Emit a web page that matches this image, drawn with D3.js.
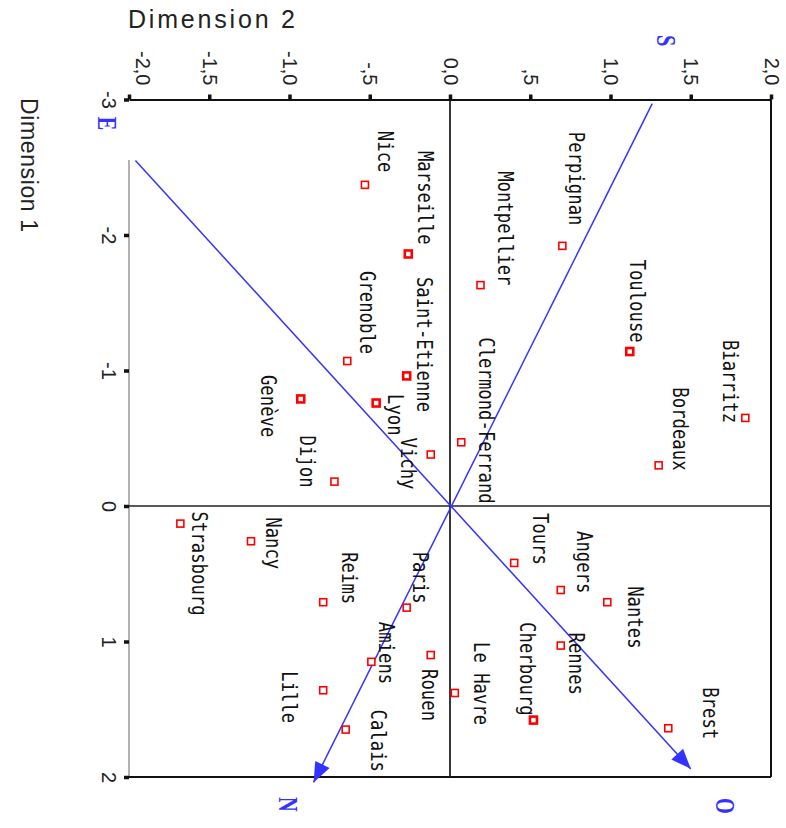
<!DOCTYPE html>
<html><head><meta charset="utf-8">
<script src="https://cdn.jsdelivr.net/npm/d3@7"></script>
<style>body{margin:0;background:#fff}</style>
</head><body>
<svg id="chart" width="786" height="828"></svg>
<script>
// ---------- data ----------
const cities = ["Nice","Marseille","Perpignan","Montpellier","Toulouse","Grenoble","Saint-Etienne","Lyon","Genève","Biarritz","Clermond-Ferrand","Vichy","Bordeaux","Dijon","Strasbourg","Nancy","Tours","Angers","Reims","Nantes","Paris","Rennes","Rouen","Amiens","Lille","Le Havre","Cherbourg","Brest","Calais"];
const dim2 = [-0.53,-0.26,0.70,0.19,1.12,-0.64,-0.27,-0.46,-0.93,1.84,0.07,-0.12,1.30,-0.72,-1.68,-1.24,0.40,0.69,-0.79,0.98,-0.27,0.69,-0.12,-0.49,-0.79,0.03,0.52,1.36,-0.65];
const dim1 = [-2.37,-1.86,-1.92,-1.63,-1.14,-1.07,-0.96,-0.76,-0.79,-0.65,-0.47,-0.38,-0.30,-0.18,0.13,0.26,0.42,0.62,0.71,0.71,0.75,1.03,1.10,1.15,1.36,1.38,1.58,1.64,1.65];
const dim2Ticks = [-2,-1.5,-1,-0.5,0,0.5,1,1.5,2];
const dim2TickLabels = ["-2,0","-1,5","-1,0","-,5","0,0",",5","1,0","1,5","2,0"];
const dim1Ticks = [-3,-2,-1,0,1,2];
const dim1TickLabels = ["-3","-2","-1","0","1","2"];
const directionNames = ["E","O","S","N"];
const directionDim2 = [-1.96,1.50,1.26,-0.85];
const directionDim1 = [-2.55,1.94,-2.97,2.04];

// ---------- layout ----------
const labelOffset = {
  "Nice":[20,-54],"Marseille":[17,-103],"Saint-Etienne":[18,-99],"Grenoble":[20,-90],
  "Genève":[-32,-24],"Lyon":[19,-9],"Vichy":[-22,-17],"Dijon":[-27,-46],
  "Perpignan":[14,-114],"Montpellier":[25,-114],"Toulouse":[8,-92],"Biarritz":[-15,-78],
  "Bordeaux":[22,-78],"Clermond-Ferrand":[25,-105],"Strasbourg":[19,-12],"Nancy":[22,-24],
  "Reims":[26,-50],"Paris":[14,-56],"Amiens":[15,-40],"Rouen":[-1,14],"Lille":[-34,-19],
  "Calais":[33,-20],"Tours":[26,-50],"Angers":[24,-59],"Nantes":[28,-16],"Rennes":[16,-13],
  "Cherbourg":[-6,-98],"Le Havre":[27,-51],"Brest":[42,-41]
};
const boldMarkers = new Set(["Marseille","Toulouse","Genève","Cherbourg","Lyon","Saint-Etienne"]);
const letterOffset = {"E":[-28,-37],"O":[35,37],"S":[14,-63],"N":[-25,22]};

const svg = d3.select("#chart");
const x = d3.scaleLinear().domain([-2,2]).range([129,771]);
const y = d3.scaleLinear().domain([-3,2]).range([99.5,777]);
const blue = "#3333ff";

// frame lines
svg.append("line").attr("x1",129).attr("x2",129).attr("y1",160).attr("y2",y(2))
  .attr("stroke","#999").attr("stroke-width",1.5);
svg.append("line").attr("x1",x(2)).attr("x2",x(2)).attr("y1",y(-3)).attr("y2",y(2))
  .attr("stroke","#111").attr("stroke-width",2);
svg.append("line").attr("x1",x(-2)).attr("x2",x(2)).attr("y1",y(2)).attr("y2",y(2))
  .attr("stroke","#111").attr("stroke-width",2);
// zero lines
svg.append("line").attr("x1",x(0)).attr("x2",x(0)).attr("y1",y(-3)).attr("y2",y(2))
  .attr("stroke","#222").attr("stroke-width",1.8);
svg.append("line").attr("x1",x(-2)).attr("x2",x(2)).attr("y1",y(0)).attr("y2",y(0))
  .attr("stroke","#222").attr("stroke-width",1.6);

// top axis (Dimension 2)
const topAxis = svg.append("g").attr("transform",`translate(0,${y(-3)})`)
  .call(d3.axisTop(x).tickValues(dim2Ticks).tickSize(5).tickSizeOuter(0)
    .tickFormat((d,i)=>dim2TickLabels[i]));
topAxis.select(".domain").attr("stroke","#111").attr("stroke-width",2);
topAxis.selectAll(".tick line").attr("stroke","#111").attr("stroke-width",3.5);
topAxis.selectAll(".tick text")
  .attr("x",0).attr("y",0).attr("dy","0.35em")
  .attr("transform",(d,i)=>`translate(${i===0?13:0},-14) rotate(90)`)
  .attr("text-anchor","end")
  .attr("font-family","Liberation Sans, Arial, sans-serif").attr("font-size",20)
  .attr("fill","#222");

// left axis (Dimension 1)
const leftAxis = svg.append("g").attr("transform",`translate(129,0)`)
  .call(d3.axisLeft(y).tickValues(dim1Ticks).tickSize(5).tickSizeOuter(0)
    .tickFormat((d,i)=>dim1TickLabels[i]));
leftAxis.select(".domain").remove();
leftAxis.selectAll(".tick line").attr("stroke","#111").attr("stroke-width",3.5);
leftAxis.selectAll(".tick text")
  .attr("x",0).attr("y",0).attr("dy","0.35em")
  .attr("transform","translate(-20,0) rotate(90)")
  .attr("text-anchor","middle")
  .attr("font-family","Liberation Sans, Arial, sans-serif").attr("font-size",20)
  .attr("fill","#222");

// axis titles
svg.append("text").attr("x",128).attr("y",28).text("Dimension 2")
  .attr("font-family","Liberation Sans, Arial, sans-serif").attr("font-size",25)
  .attr("textLength",167).attr("lengthAdjust","spacing").attr("fill","#222");
svg.append("text").attr("transform","translate(21,98) rotate(90)").text("Dimension 1")
  .attr("font-family","Liberation Sans, Arial, sans-serif").attr("font-size",23)
  .attr("textLength",134).attr("lengthAdjust","spacing").attr("fill","#222");

// direction lines
const dirs = directionNames.map((n,i)=>({name:n, d2:directionDim2[i], d1:directionDim1[i]}));
function arrowHead(g, x0,y0,x1,y1){
  const dx=x1-x0, dy=y1-y0, L=Math.hypot(dx,dy), ux=dx/L, uy=dy/L;
  const len=20, hw=8;
  const bx=x1-ux*len, by=y1-uy*len;
  g.append("path").attr("d",`M${x1},${y1}L${bx-uy*hw},${by+ux*hw}L${bx+uy*hw},${by-ux*hw}Z`)
    .attr("fill",blue);
}
const dg = svg.append("g");
[["E","O"],["S","N"]].forEach(([a,b])=>{
  const A=dirs.find(d=>d.name===a), B=dirs.find(d=>d.name===b);
  dg.append("line").attr("x1",x(A.d2)).attr("y1",y(A.d1)).attr("x2",x(B.d2)).attr("y2",y(B.d1))
    .attr("stroke",blue).attr("stroke-width",1.5);
  arrowHead(dg, x(0),y(0), x(B.d2), y(B.d1));
});
dirs.forEach(d=>{
  const o=letterOffset[d.name];
  svg.append("text").attr("transform",`translate(${x(d.d2)+o[0]},${y(d.d1)+o[1]}) rotate(90) scale(0.75,1)`)
    .attr("dy","0.35em").attr("text-anchor","middle")
    .attr("font-family","Liberation Serif, Times New Roman, serif").attr("font-weight","bold")
    .attr("font-size",27).attr("fill",blue).text(d.name);
});

// points
const pts = cities.map((c,i)=>({city:c, d2:dim2[i], d1:dim1[i]}));
svg.append("g").selectAll("rect").data(pts).join("rect")
  .attr("x",d=>x(d.d2)-3.5).attr("y",d=>y(d.d1)-3.5).attr("width",7).attr("height",7)
  .attr("fill","#fff").attr("stroke","#ff0000")
  .attr("stroke-width",d=>boldMarkers.has(d.city)?2.6:1.6);

// labels
svg.append("g").selectAll("text").data(pts).join("text")
  .attr("transform",d=>{const o=labelOffset[d.city];return `translate(${x(d.d2)+o[0]},${y(d.d1)+o[1]}) rotate(90) scale(0.823,1)`;})
  .attr("dy","0.35em").attr("text-anchor","start")
  .attr("font-family","DejaVu Sans Mono, monospace").attr("font-size",21)
  .attr("fill","#111").text(d=>d.city);
</script>
</body></html>
